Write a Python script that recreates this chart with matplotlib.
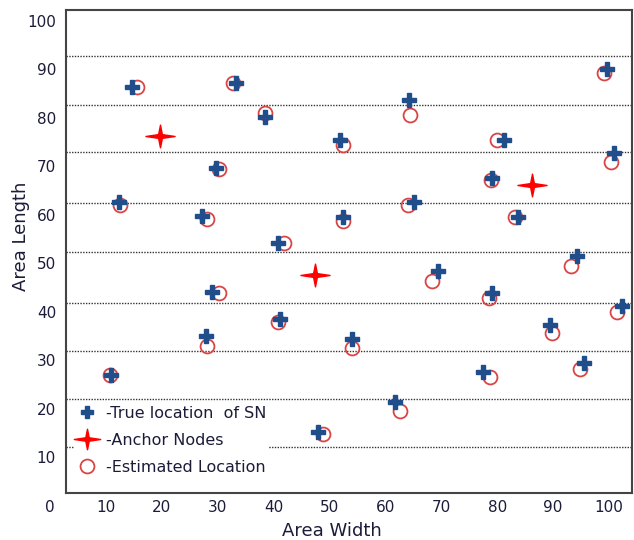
import matplotlib
matplotlib.use("Agg")
import matplotlib.pyplot as plt
from matplotlib.path import Path
from matplotlib.lines import Line2D

# true sensor node positions
true_x = [14.7, 33.3, 38.5, 29.7, 12.3, 27.2, 40.8, 29.0, 41.1, 27.9, 10.9, 47.9,
          64.2, 51.9, 81.2, 99.6, 100.9, 79.1, 65.1, 52.4, 83.7, 94.3, 69.4,
          79.1, 102.3, 54.0, 89.4, 95.5, 77.5, 61.7]
true_y = [86.6, 87.4, 80.4, 69.9, 62.9, 60.0, 54.4, 44.3, 38.8, 35.3, 27.2, 15.5,
          83.9, 75.7, 75.7, 90.3, 73.0, 67.8, 62.9, 59.8, 59.8, 51.8, 48.7,
          44.1, 41.4, 34.6, 37.5, 29.7, 27.8, 21.6]
# estimated positions
est_x = [15.5, 32.8, 38.5, 30.3, 12.6, 28.0, 41.8, 30.2, 40.8, 28.0, 10.7, 48.9,
         64.4, 52.4, 80.0, 99.1, 100.4, 78.9, 64.0, 52.4, 83.2, 93.2, 68.3,
         78.5, 101.4, 54.0, 89.8, 94.8, 78.7, 62.6]
est_y = [86.6, 87.4, 81.2, 69.7, 62.3, 59.4, 54.4, 44.1, 38.1, 33.3, 27.2, 15.1,
         80.8, 74.6, 75.7, 89.5, 71.1, 67.4, 62.3, 59.0, 59.8, 49.7, 46.6,
         43.1, 40.2, 32.8, 35.9, 28.5, 26.8, 19.8]
# anchors
anchor_x = [19.7, 47.4, 86.2]
anchor_y = [76.5, 47.8, 66.4]

grid_y = [12.4, 22.3, 32.2, 42.1, 52.6, 62.7, 73.2, 82.9, 93.0]
x_ticks = [0, 10, 20, 30, 40, 50, 60, 70, 80, 90, 100]
y_ticks = [10, 20, 30, 40, 50, 60, 70, 80, 90, 100]   # the shared "0" comes from x

blue = "#1f4e8a"
circ_red = "#d94545"
txt = "#1c1c3a"

# 4-point star for anchor nodes
a, b, c = 1.0, 0.78, 0.13
star = Path([(a, 0), (c, c), (0, b), (-c, c), (-a, 0), (-c, -c), (0, -b), (c, -c), (a, 0)],
            [Path.MOVETO] + [Path.LINETO] * 7 + [Path.CLOSEPOLY])

fig = plt.figure(figsize=(6.34, 5.4), dpi=100)
ax = fig.add_axes([66 / 634, 47 / 540, 566 / 634, 483 / 540])
ax.set_xlim(2.86, 104.1)
ax.set_ylim(2.9, 102.5)

for g in grid_y:
    ax.axhline(g, color="#333333", lw=1.0, ls=(0, (1, 1)), zorder=1)

ax.plot(est_x, est_y, "o", ms=10, mfc="none", mec=circ_red, mew=1.3, zorder=3)
ax.plot(true_x, true_y, "P", ms=9.5, color=blue, mec=blue, zorder=4)
ax.plot(anchor_x, anchor_y, ls="none", marker=star, ms=21, color="red", mec="red", zorder=5)

ax.set_xticks([])
ax.set_yticks([])
for s in ax.spines.values():
    s.set_color("#444444")
    s.set_linewidth(1.5)

# tick labels sit outside the frame
for v in x_ticks:
    ax.text(v, -14 / 483, str(v), transform=ax.get_xaxis_transform(), ha="center", va="center",
            fontsize=11, color=txt, clip_on=False)
for v in y_ticks:
    ax.text(-10 / 566, v, str(v), transform=ax.get_yaxis_transform(), ha="right", va="center",
            fontsize=11, color=txt, clip_on=False)

fig.text(332 / 634, 1 - 531 / 540, "Area Width", ha="center", va="center", fontsize=13, color=txt)
fig.text(21 / 634, 1 - 236 / 540, "Area Length", ha="center", va="center", rotation=90,
         fontsize=13, color=txt)

handles = [
    Line2D([], [], ls="none", marker="P", ms=9, color=blue),
    Line2D([], [], ls="none", marker=star, ms=19, color="red"),
    Line2D([], [], ls="none", marker="o", ms=10, mfc="none", mec=circ_red, mew=1.3),
]
labels = ["-True location  of SN", "-Anchor Nodes", "-Estimated Location"]
leg = ax.legend(handles, labels, loc="lower left", bbox_to_anchor=(0.0, 0.016),
                frameon=True, facecolor="white", edgecolor="none", framealpha=1,
                fontsize=11.5, handletextpad=0.55, labelspacing=0.75, borderpad=0.15,
                handlelength=1.3, fancybox=False)
for t in leg.get_texts():
    t.set_color(txt)
leg.set_zorder(6)

fig.savefig("out.png", dpi=100)
